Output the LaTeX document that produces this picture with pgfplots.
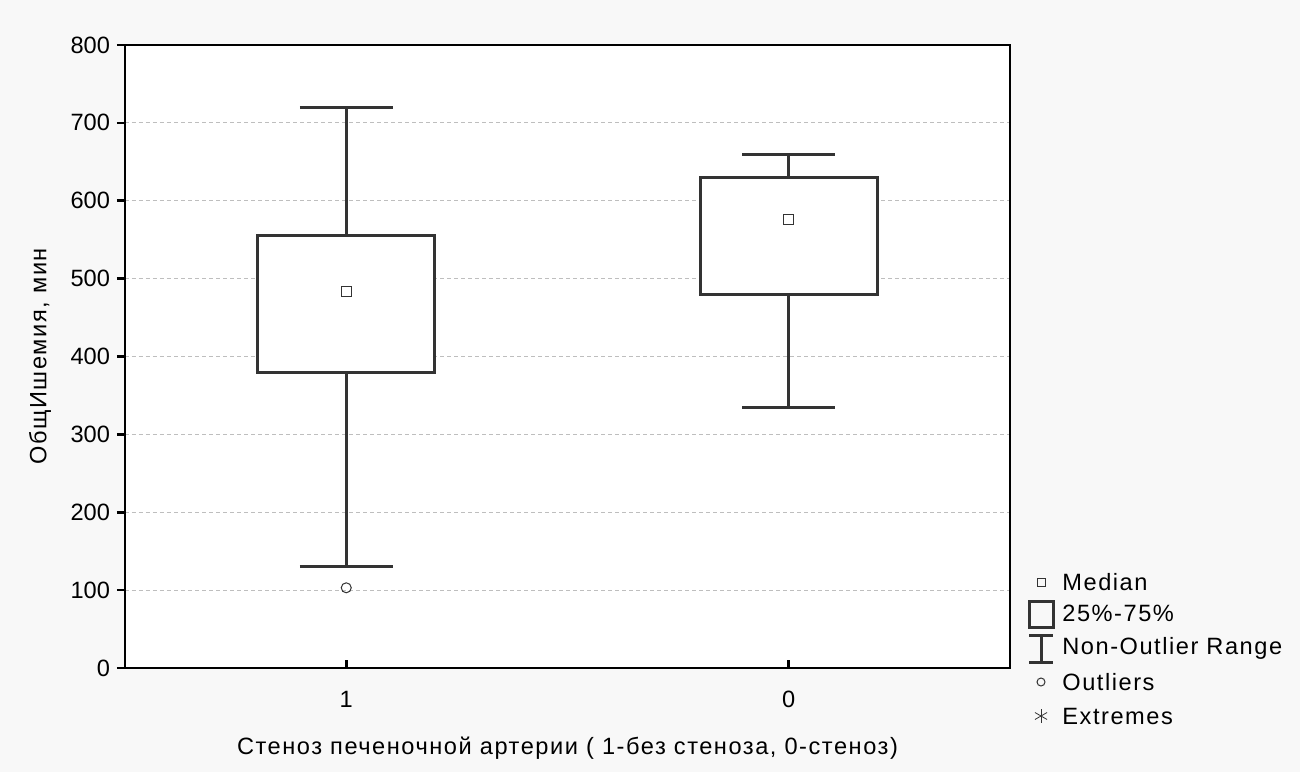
\documentclass[border=0pt]{standalone}
\usepackage{fontspec}
\setmainfont{Liberation Sans}
\usepackage{pgfplots}
\pgfplotsset{compat=1.18}
\usepgfplotslibrary{statistics}
\definecolor{bg}{RGB}{248,248,248}
\definecolor{boxc}{RGB}{51,51,51}
\definecolor{gridc}{RGB}{190,190,190}
\newcommand{\chartfont}{\fontsize{11.8}{13}\selectfont\addfontfeature{LetterSpace=6.5}}

\begin{document}
\begin{tikzpicture}
% page background, 1 px of the reference = 0.5pt
\fill[bg] (-62.5pt,-52pt) rectangle (587.5pt,334pt);
\useasboundingbox (-62.5pt,-52pt) rectangle (587.5pt,334pt);
\begin{axis}[
    scale only axis,
    width=442.5pt,
    height=311.5pt,
    xmin=-0.5, xmax=1.5,
    ymin=0, ymax=800,
    xtick={0,1},
    xticklabels={1,0},
    ytick={0,100,...,800},
    xtick pos=bottom,
    ytick pos=left,
    xtick align=inside,
    ytick align=outside,
    major tick length=4pt,
    tick style={black, line width=1.3pt},
    axis line style={black, line width=1.3pt},
    axis background/.style={fill=white},
    ymajorgrids,
    major grid style={gridc, line width=0.5pt, dash pattern=on 2pt off 1.5pt},
    /pgf/number format/assume math mode=true,
    tick label style={font=\fontsize{11.8}{13}\selectfont},
    xticklabel style={yshift=-8pt},
    label style={font=\chartfont},
    xlabel={Стеноз печеночной артерии ( 1-без стеноза, 0-стеноз)},
    ylabel={ОбщИшемия, мин},
    xlabel style={at={(axis description cs:0.5,-0.128)}, anchor=center},
    ylabel style={at={(axis description cs:-0.096,0.5)}, anchor=center},
    boxplot/draw direction=y,
    clip=false,
]
% category "1"
\addplot[boxplot prepared={draw position=0,
        lower whisker=130, lower quartile=380, median=484,
        upper quartile=555, upper whisker=720,
        box extend=0.4, whisker extend=0.21},
    boxplot/draw/median/.code={},
    draw=boxc, fill=white, line width=1.5pt, mark=none]
    coordinates {};
% category "0"
\addplot[boxplot prepared={draw position=1,
        lower whisker=334, lower quartile=480, median=576,
        upper quartile=630, upper whisker=659,
        box extend=0.4, whisker extend=0.21},
    boxplot/draw/median/.code={},
    draw=boxc, fill=white, line width=1.5pt, mark=none]
    coordinates {};
% medians
\addplot[only marks, mark=square, mark size=2.5pt,
    mark options={draw=boxc, fill=white, line width=0.5pt}]
    coordinates {(0,484) (1,576)};
% outliers
\addplot[only marks, mark=o, mark size=2.5pt,
    mark options={draw=boxc, fill=white, line width=0.5pt}]
    coordinates {(0,103)};
\end{axis}

% legend
\begin{scope}[font=\chartfont]
\draw[boxc, line width=0.5pt] (456pt,41pt) rectangle (460pt,45pt);
\node[anchor=west, inner sep=0] at (468.5pt,43pt) {Median};
\draw[boxc, line width=1.5pt] (452pt,20.5pt) rectangle (464pt,33.5pt);
\node[anchor=west, inner sep=0] at (468.5pt,27.5pt) {25\%-75\%};
\draw[boxc, line width=1.5pt] (452pt,16.5pt) -- (464pt,16.5pt) (458pt,16.5pt) -- (458pt,3pt) (452pt,3pt) -- (464pt,3pt);
\node[anchor=west, inner sep=0] at (468.5pt,10pt) {Non-Outlier Range};
\draw[boxc, line width=0.5pt] (458pt,-7pt) circle (2pt);
\node[anchor=west, inner sep=0] at (468.5pt,-7pt) {Outliers};
\foreach \a in {90,30,150} {
  \draw[boxc, line width=0.4pt] (458pt,-24pt) ++(\a:3.5pt) -- ++(\a+180:7pt);
}
\node[anchor=west, inner sep=0] at (468.5pt,-24pt) {Extremes};
\end{scope}
\end{tikzpicture}
\end{document}
